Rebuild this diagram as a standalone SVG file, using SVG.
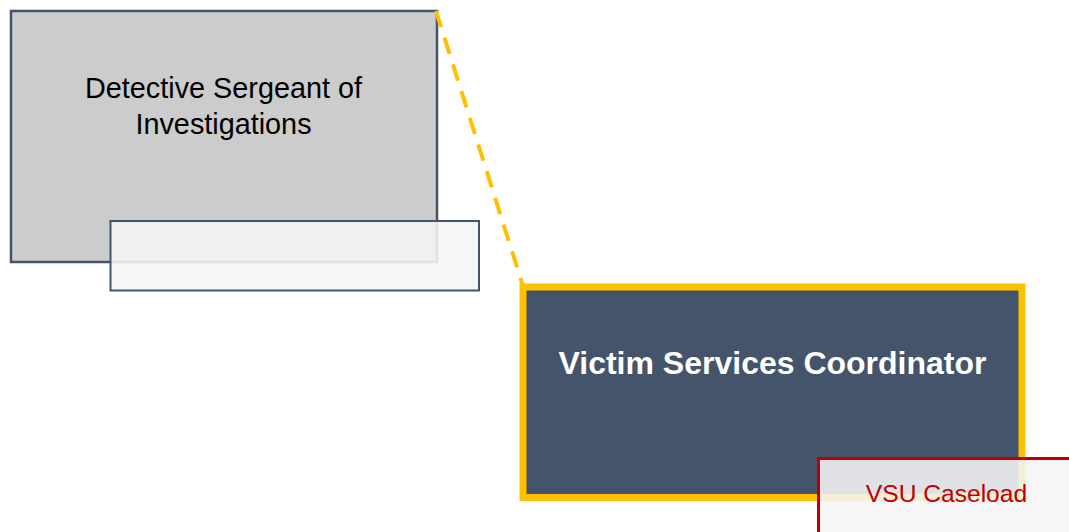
<svg xmlns="http://www.w3.org/2000/svg" width="1069" height="532" viewBox="0 0 1069 532">
  <style>
    .label { font-family: "Liberation Sans", Arial, sans-serif; text-anchor: middle; }
    .card { fill: #F5F5F5; fill-opacity: 0.88; }
  </style>
  <rect width="1069" height="532" fill="#FFFFFF"/>

  <!-- Detective Sergeant node -->
  <g id="detective-sergeant">
    <rect x="11" y="11" width="426" height="251" fill="#CCCCCC" stroke="#44546A" stroke-width="2.5"/>
    <text class="label" x="223.5" y="98" font-size="28.8" fill="#000000">Detective Sergeant of</text>
    <text class="label" x="223.5" y="134" font-size="28.8" fill="#000000">Investigations</text>
  </g>

  <!-- Empty caption card under the sergeant -->
  <g id="sergeant-card">
    <rect class="card" x="110.5" y="221" width="368.5" height="69.5" stroke="#44546A" stroke-width="2"/>
  </g>

  <!-- Connectors -->
  <g id="connectors">
    <line x1="436" y1="11" x2="523" y2="286" stroke="#FFC000" stroke-width="4" stroke-dasharray="17 11"/>
  </g>

  <!-- Victim Services Coordinator node -->
  <g id="victim-services-coordinator">
    <rect x="523" y="287" width="499" height="210.5" fill="#44546A" stroke="#FFC000" stroke-width="7"/>
    <text class="label" x="772.5" y="374" font-size="32" font-weight="bold" fill="#FFFFFF">Victim Services Coordinator</text>
  </g>

  <!-- VSU Caseload card -->
  <g id="vsu-caseload">
    <rect class="card" x="818.5" y="458.5" width="262" height="80" stroke="#C00000" stroke-width="3"/>
    <text class="label" x="946.5" y="502" font-size="24.6" fill="#C00000">VSU Caseload</text>
  </g>
</svg>
